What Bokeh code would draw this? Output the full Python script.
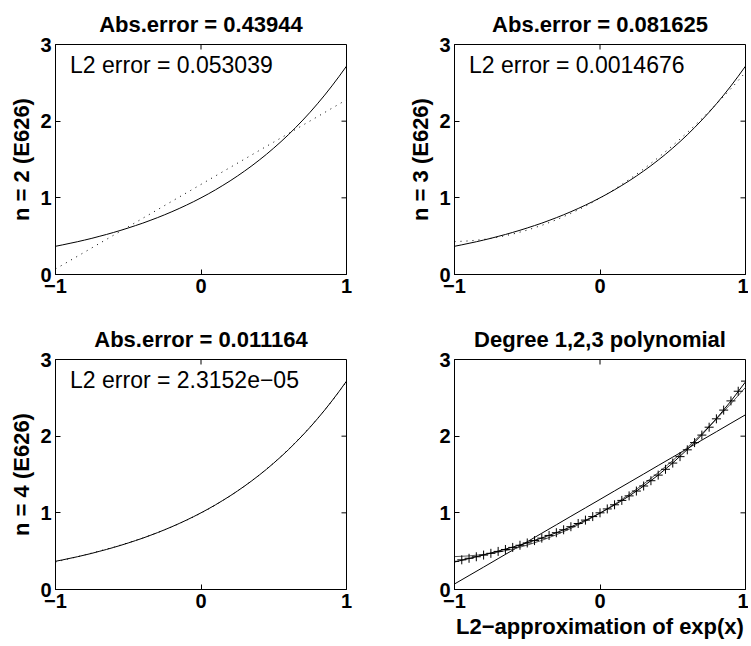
from bokeh.plotting import figure
from bokeh.layouts import column, row
from bokeh.models import Range1d, FixedTicker, Label
from bokeh.embed import file_html
from bokeh.resources import INLINE

FONT = "Liberation Sans"

# ---- data ----
x_exp = [-1.00, -0.95, -0.90, -0.85, -0.80, -0.75, -0.70, -0.65, -0.60, -0.55,
         -0.50, -0.45, -0.40, -0.35, -0.30, -0.25, -0.20, -0.15, -0.10, -0.05,
         0.00, 0.05, 0.10, 0.15, 0.20, 0.25, 0.30, 0.35, 0.40, 0.45,
         0.50, 0.55, 0.60, 0.65, 0.70, 0.75, 0.80, 0.85, 0.90, 0.95, 1.00]
y_exp = [0.368, 0.387, 0.407, 0.427, 0.449, 0.472, 0.497, 0.522, 0.549, 0.577,
         0.607, 0.638, 0.670, 0.705, 0.741, 0.779, 0.819, 0.861, 0.905, 0.951,
         1.000, 1.051, 1.105, 1.162, 1.221, 1.284, 1.350, 1.419, 1.492, 1.568,
         1.649, 1.733, 1.822, 1.916, 2.014, 2.117, 2.226, 2.340, 2.460, 2.586, 2.718]

x_poly = [-1.0, -0.9, -0.8, -0.7, -0.6, -0.5, -0.4, -0.3, -0.2, -0.1, 0.0,
          0.1, 0.2, 0.3, 0.4, 0.5, 0.6, 0.7, 0.8, 0.9, 1.0]
y_deg1 = [0.072, 0.182, 0.292, 0.403, 0.513, 0.623, 0.734, 0.844, 0.955, 1.065, 1.175,
          1.286, 1.396, 1.506, 1.617, 1.727, 1.837, 1.948, 2.058, 2.169, 2.279]
y_deg2 = [0.429, 0.438, 0.457, 0.487, 0.527, 0.579, 0.641, 0.714, 0.797, 0.891, 0.996,
          1.112, 1.239, 1.376, 1.524, 1.682, 1.852, 2.032, 2.223, 2.424, 2.637]
y_deg3 = [0.358, 0.404, 0.451, 0.501, 0.553, 0.610, 0.672, 0.741, 0.817, 0.902, 0.996,
          1.102, 1.219, 1.349, 1.492, 1.651, 1.826, 2.018, 2.228, 2.458, 2.708]

x_ticks = [-1, 0, 1]
x_tick_labels = ["\u22121", "0", "1"]
y_ticks = [0, 1, 2, 3]

titles = ["Abs.error = 0.43944", "Abs.error = 0.081625",
          "Abs.error = 0.011164", "Degree 1,2,3 polynomial"]
y_labels = ["n = 2 (E626)", "n = 3 (E626)", "n = 4 (E626)", ""]
l2_texts = ["L2 error = 0.053039", "L2 error = 0.0014676", "L2 error = 2.3152e\u221205"]
x_label_last = "L2\u2212approximation of exp(x)"

FRAME_W, FRAME_H = 291, 230
TICK_PX = 5


def style_axis(ax, ticks, overrides=None):
    ax.ticker = FixedTicker(ticks=ticks)
    if overrides:
        ax.major_label_overrides = overrides
    ax.major_tick_in = TICK_PX
    ax.major_tick_out = 0
    ax.minor_tick_in = 0
    ax.minor_tick_out = 0
    ax.axis_line_color = "black"
    ax.major_tick_line_color = "black"
    ax.major_label_text_font = FONT
    ax.major_label_text_font_style = "bold"
    ax.major_label_text_font_size = "20px"
    ax.major_label_text_color = "black"
    ax.major_label_standoff = 4
    ax.axis_label_text_font = FONT
    ax.axis_label_text_font_style = "bold"
    ax.axis_label_text_font_size = "22px"
    ax.axis_label_text_color = "black"
    ax.axis_label_standoff = 3


def make_fig(title, ylabel, xlabel, bl, br, bt, bb):
    xr, yr = Range1d(-1, 1), Range1d(0, 3)
    p = figure(frame_width=FRAME_W, frame_height=FRAME_H,
               x_range=xr, y_range=yr,
               output_backend="svg", toolbar_location=None,
               min_border_left=bl, min_border_right=br,
               min_border_top=bt, min_border_bottom=bb,
               title=title)
    p.title.text_font = FONT
    p.title.text_font_style = "bold"
    p.title.text_font_size = "22px"
    p.title.align = "center"
    p.title.text_color = "black"
    p.title.standoff = 16
    p.grid.visible = False
    p.outline_line_color = "black"
    p.outline_line_alpha = 1
    p.background_fill_color = "white"
    p.border_fill_color = "white"
    style_axis(p.xaxis[0], x_ticks, dict(zip(x_ticks, x_tick_labels)))
    style_axis(p.yaxis[0], y_ticks)
    p.xaxis[0].axis_label = xlabel if xlabel else None
    p.yaxis[0].axis_label = ylabel if ylabel else None
    # inward ticks mirrored on the top and right edges of the box
    dx = TICK_PX * (xr.end - xr.start) / FRAME_W
    dy = TICK_PX * (yr.end - yr.start) / FRAME_H
    p.segment(x0=x_ticks, y0=[yr.end] * len(x_ticks), x1=x_ticks,
              y1=[yr.end - dy] * len(x_ticks), line_color="black", line_width=1)
    p.segment(x0=[xr.end] * len(y_ticks), y0=y_ticks, x1=[xr.end - dx] * len(y_ticks),
              y1=y_ticks, line_color="black", line_width=1)
    return p


figs = []
approx = [y_deg1, y_deg2, y_deg3]
# (left, right, top, bottom) borders
borders = [(55, 20, 44, 41), (88, 3, 44, 41), (55, 20, 44, 55), (88, 3, 44, 55)]
for i in range(3):
    p = make_fig(titles[i], y_labels[i], None, *borders[i])
    p.line(x_exp, y_exp, line_color="black", line_width=1)
    p.line(x_poly, approx[i], line_color="black", line_width=1, line_dash="1 5")
    p.add_layout(Label(x=-0.9, y=2.73, text=l2_texts[i], text_font=FONT,
                       text_font_size="23px", text_baseline="middle",
                       text_color="black"))
    figs.append(p)

p4 = make_fig(titles[3], None, x_label_last, *borders[3])
p4.line(x_poly, y_deg1, line_color="black", line_width=1)
p4.line(x_poly, y_deg2, line_color="#555555", line_width=1)
p4.line(x_poly, y_deg3, line_color="black", line_width=1)
p4.scatter(x_exp, y_exp, marker="cross", size=9, line_color="black", line_width=1)
figs.append(p4)

layout = column(row(figs[0], figs[1], spacing=0), row(figs[2], figs[3], spacing=0), spacing=0)

open("out.html", "w").write(file_html(layout, INLINE))
